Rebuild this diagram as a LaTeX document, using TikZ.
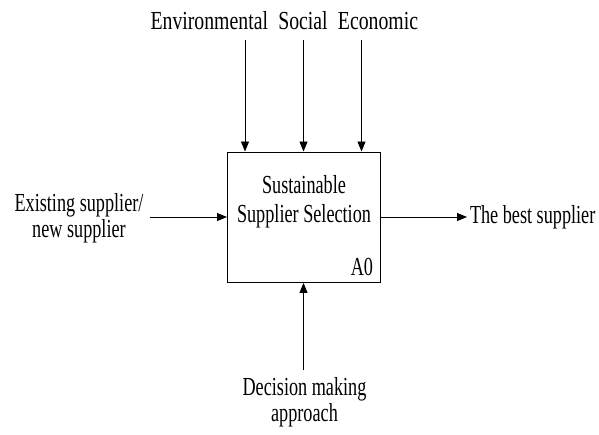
\documentclass[tikz,border=0pt]{standalone}
\usepackage{fontspec}
\setmainfont{Liberation Serif}[FakeStretch=0.7]
\newfontfamily\widefont{Liberation Serif}[FakeStretch=0.76]
\usetikzlibrary{arrows.meta}
\begin{document}
\begin{tikzpicture}[x=1pt,y=-1pt,
  lbl/.style={inner sep=0pt,outer sep=0pt,align=center,font=\fontsize{26}{26}\selectfont,anchor=base},
  toplbl/.style={lbl,font=\widefont\fontsize{26}{26}\selectfont},
  conn/.style={line width=0.9pt,-{Triangle[length=10pt,width=8pt]}},
  fnbox/.style={draw,line width=0.9pt,minimum width=153pt,minimum height=130.5pt,inner sep=0pt,anchor=north west}]
\useasboundingbox (0,0) rectangle (599,434);
\node[fnbox] (box) at (227,151.5) {};
\node[lbl] (t1) at (304,193) {Sustainable};
\node[lbl] (t2) at (304,222) {Supplier Selection};
\node[lbl,anchor=base east] (a0) at (373,275) {A0};
\node[toplbl,anchor=base east] (env) at (268,29) {Environmental};
\node[toplbl] (soc) at (303,29) {Social};
\node[toplbl] (eco) at (378,29) {Economic};
\coordinate (e1) at (245,40);
\coordinate (s1) at (303.5,40);
\coordinate (c1) at (361.5,40);
\draw[conn] (e1) -- (e1 |- box.north);
\draw[conn] (s1) -- (s1 |- box.north);
\draw[conn] (c1) -- (c1 |- box.north);
\node[lbl] (inp) at (79,237) {Existing supplier/\\new supplier};
\coordinate (i1) at (150,217);
\draw[conn] (i1) -- (i1 -| box.west);
\node[lbl,anchor=base west] (out) at (470,223) {The best supplier};
\coordinate (o1) at (467,217);
\draw[conn] (o1 -| box.east) -- (o1);
\node[lbl] (mech) at (304.5,421) {Decision making\\approach};
\coordinate (m1) at (303.5,370);
\draw[conn] (m1) -- (m1 |- box.south);
\end{tikzpicture}
\end{document}
